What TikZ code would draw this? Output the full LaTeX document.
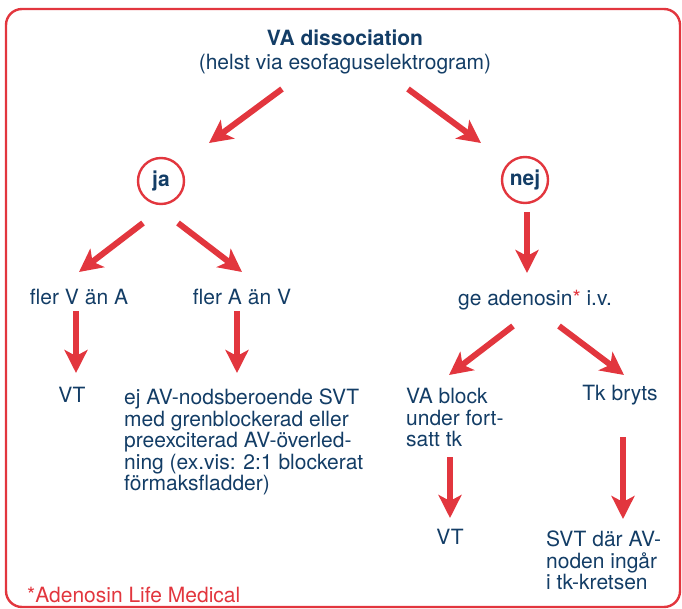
\documentclass[tikz,border=0pt]{standalone}
\usepackage{fontspec}
\setmainfont{TeX Gyre Heros}
\usetikzlibrary{arrows.meta}
\definecolor{navy}{RGB}{19,61,102}
\definecolor{rred}{RGB}{226,54,62}
\tikzset{
  txt/.style={inner sep=0pt, text=navy, font=\fontsize{21}{21.5}\selectfont},
  mtxt/.style={txt, align=left, anchor=north west},
  circ/.style={circle, draw=rred, line width=2.4pt, minimum size=46pt, inner sep=0pt, text=navy, font=\fontsize{21}{21.5}\selectfont\bfseries},
  arr/.style={draw=rred, line width=6pt, -{Stealth[length=23pt,width=23pt,inset=6pt]}},
}
\begin{document}
\begin{tikzpicture}[x=1pt,y=-1pt]
\useasboundingbox (0,0) rectangle (682,609);
\draw[rred, line width=2.4pt, rounded corners=16pt] (6,9) rectangle (680,607);

\node[txt, align=center, anchor=north] (title) at (345,30) {\textbf{VA dissociation}\\[2.5pt](helst via esofaguselektrogram)};
\node[circ] (ja) at (161,181) {ja};
\node[circ] (nej) at (525,180) {nej};

\node[txt] (flerV) at (79,297) {fler V än A};
\node[txt] (flerA) at (242,297) {fler A än V};
\node[txt] (vt1) at (72,395) {VT};
\node[mtxt] (ej) at (124,389) {ej AV-nodsberoende SVT\\med grenblockerad eller\\preexciterad AV-överled-\\ning (ex.vis: 2:1 blockerat\\förmaksfladder)};

\node[txt] (ge) at (535,300) {ge adenosin\textcolor{rred}{*} i.v.};
\node[mtxt] (vab) at (406,388) {VA block\\under fort-\\satt tk};
\node[txt] (tk) at (620,395) {Tk bryts};
\node[txt] (vt2) at (450,537) {VT};
\node[mtxt] (svt) at (546,531) {SVT där AV-\\noden ingår\\i tk-kretsen};

\node[txt, text=rred, anchor=west] (foot) at (27,595) {*Adenosin Life Medical};

% connector end points
\coordinate (t1s) at (282,89);  \coordinate (t1e) at (209,143);
\coordinate (t2s) at (408,89);  \coordinate (t2e) at (481,143);
\coordinate (j1s) at (143,223); \coordinate (j1e) at (79,272);
\coordinate (j2s) at (178,223); \coordinate (j2e) at (242,272);
\coordinate (v1s) at (76,311);  \coordinate (v1e) at (76,373);
\coordinate (a1s) at (237,311); \coordinate (a1e) at (237,373);
\coordinate (n1s) at (527,212); \coordinate (n1e) at (527,273);
\coordinate (g1s) at (513,326); \coordinate (g1e) at (449,375);
\coordinate (g2s) at (559,326); \coordinate (g2e) at (624,375);
\coordinate (b1s) at (450,457); \coordinate (b1e) at (450,518);
\coordinate (k1s) at (623,437); \coordinate (k1e) at (623,519);

\draw[arr] (t1s) -- (t1e);
\draw[arr] (t2s) -- (t2e);
\draw[arr] (j1s) -- (j1e);
\draw[arr] (j2s) -- (j2e);
\draw[arr] (v1s) -- (v1e);
\draw[arr] (a1s) -- (a1e);
\draw[arr] (n1s) -- (n1e);
\draw[arr] (g1s) -- (g1e);
\draw[arr] (g2s) -- (g2e);
\draw[arr] (b1s) -- (b1e);
\draw[arr] (k1s) -- (k1e);
\end{tikzpicture}
\end{document}
